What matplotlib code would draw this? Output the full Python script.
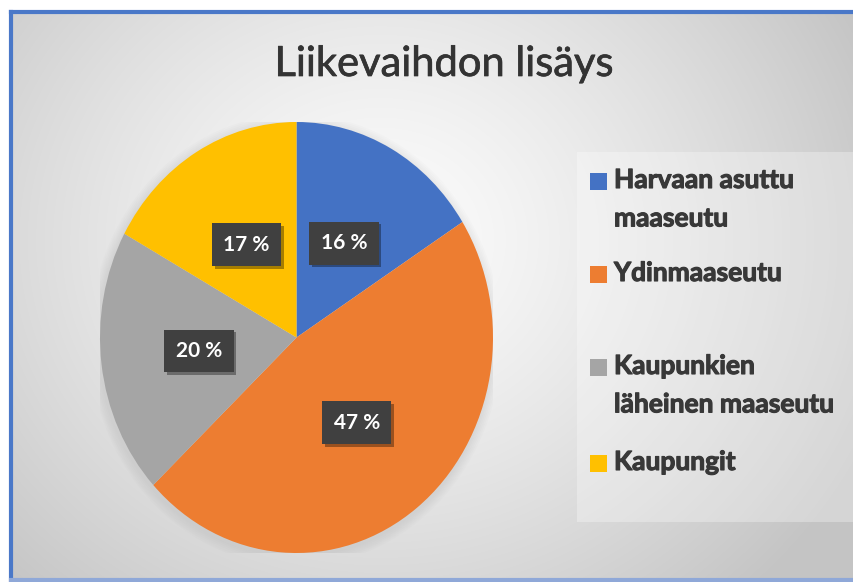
import numpy as np
import matplotlib.pyplot as plt
from matplotlib.patches import Rectangle, Ellipse
from matplotlib.lines import Line2D
import matplotlib.patheffects as pe

W, H = 854, 582

title = "Liikevaihdon lisäys"
labels = ["Harvaan asuttu\nmaaseutu", "Ydinmaaseutu",
          "Kaupunkien\nläheinen maaseutu", "Kaupungit"]
shares = [16, 47, 20, 17]
colors = ["#4472C4", "#ED7D31", "#A5A5A5", "#FFC000"]

plt.rcParams['font.family'] = ['Lato', 'DejaVu Sans']


def fx(px):
    return px / W


def fy(py):
    # pixel rows are counted from the top
    return 1 - py / H


fig = plt.figure(figsize=(W / 100, H / 100), dpi=100, facecolor="white")

# radial gradient background inside the blue frame
bg = fig.add_axes([fx(12), fy(579), fx(W - 12), (579 - 12) / H])
yy, xx = np.mgrid[12:579, 12:W]
d = np.sqrt(((xx - 380) / 1.0) ** 2 + ((yy - 240) / 0.9) ** 2)
g = np.clip(0.99 - 0.19 * (d / 480) ** 1.3, 0.77, 1)
bg.imshow(np.dstack([g, g, g]), aspect="auto", extent=(0, 1, 0, 1), origin="upper")
bg.set_axis_off()

# frame: top, left and bottom edges (right edge is cut off in the screenshot)
for xs, ys, c in [([11.5, W + 5], [11.5, 11.5], "#4a78c8"),
                  ([11.5, 11.5], [11.5, 579.5], "#4a78c8"),
                  ([11.5, W + 5], [579.5, 579.5], "#8fa8d8")]:
    fig.add_artist(Line2D([fx(x) for x in xs], [fy(y) for y in ys],
                          transform=fig.transFigure, color=c, linewidth=3))

fig.text(fx(444), fy(64), title, ha="center", va="center",
         fontsize=30, color="#333333",
         path_effects=[pe.withStroke(linewidth=0.5, foreground="#333333")])

# pie (the screenshot is stretched vertically, so the pie is an ellipse)
ax = fig.add_axes([fx(100), fy(553), fx(493 - 100), (553 - 122) / H])
ax.set_facecolor("none")
for k in range(6):
    s = 1.0 + 0.008 * (k + 1)
    ax.add_patch(Ellipse((-0.005, -0.012), 2 * s, 2 * s, facecolor="#808080",
                         edgecolor="none", alpha=0.025, zorder=0))
wedges, texts, autotexts = ax.pie(
    shares, colors=colors, startangle=90, counterclock=False,
    autopct="%.0f %%", pctdistance=0.5,
    wedgeprops=dict(linewidth=0))
for w in wedges:
    w.set_zorder(2)
for t in autotexts:
    t.set_color("white")
    t.set_fontsize(15)
    t.set_fontweight("bold")
    t.set_zorder(4)
    t.set_bbox(dict(boxstyle="square,pad=0.55", facecolor="#404040",
                    edgecolor="none"))
    t.get_bbox_patch().set_path_effects(
        [pe.SimplePatchShadow(offset=(2, -2), shadow_rgbFace="#000000", alpha=0.35),
         pe.Normal()])
ax.set_aspect("auto")
ax.set_xlim(-1, 1)
ax.set_ylim(-1, 1)
ax.set_axis_off()

# legend
fig.patches.append(Rectangle((fx(577), fy(522)), fx(W - 577 + 10), (522 - 152) / H,
                             transform=fig.transFigure, facecolor="white",
                             edgecolor="none", alpha=0.3, zorder=3))
pitch = 93
for i, (lab, c) in enumerate(zip(labels, colors)):
    top = 173 + i * pitch + (3 if i == 3 else 0)
    fig.patches.append(Rectangle((fx(590), fy(top + 17)), fx(17), 17 / H,
                                 transform=fig.transFigure, facecolor=c,
                                 edgecolor="none", zorder=4))
    fig.text(fx(614), fy(top - 5), lab, ha="left", va="top", fontsize=19,
             fontweight="bold", color="#383838", linespacing=1.72, zorder=5,
             path_effects=[pe.withStroke(linewidth=0.8, foreground="#383838")])

fig.savefig("out.png", dpi=100, facecolor="white")
